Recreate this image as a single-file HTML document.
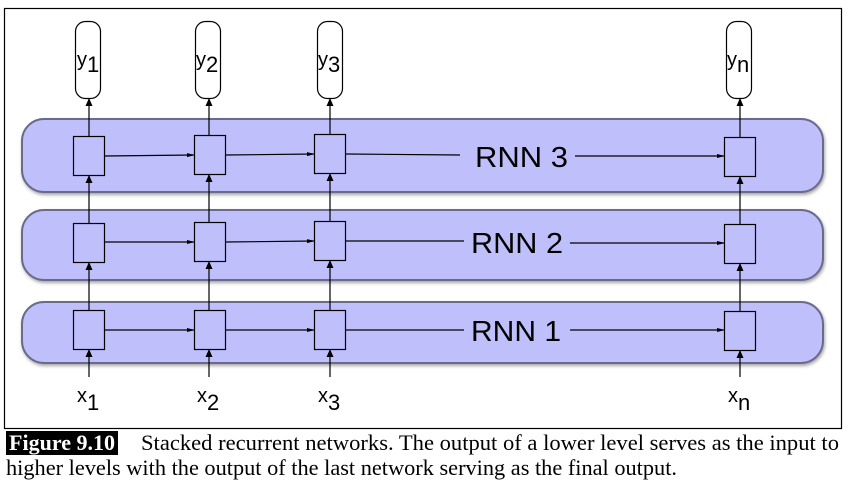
<!DOCTYPE html>
<html><head><style>body{margin:0;background:#fff}svg{display:block}</style></head><body>
<svg width="849" height="494" viewBox="0 0 849 494" xmlns="http://www.w3.org/2000/svg">
<defs>
<marker id="a" markerWidth="8" markerHeight="8" refX="7" refY="4" orient="auto" markerUnits="userSpaceOnUse"><path d="M0,0.5 L8,4 L0,7.5 Z" fill="#000"/></marker>
<marker id="s" markerWidth="8" markerHeight="6" refX="7" refY="3" orient="auto" markerUnits="userSpaceOnUse"><path d="M0,1 L8,3 L0,5 Z" fill="#000"/></marker>
<filter id="sh" x="-5%" y="-20%" width="110%" height="150%"><feDropShadow dx="1" dy="2" stdDeviation="1.5" flood-color="#000" flood-opacity="0.35"/></filter>
</defs>
<rect x="4.5" y="8.5" width="837" height="420" fill="#fff" stroke="#000" stroke-width="1.2"/>
<g fill="#bfbffc" stroke="#6a6a8a" stroke-width="2" filter="url(#sh)">
<rect x="22" y="119" width="801" height="73" rx="22"/>
<rect x="22" y="210" width="801" height="70" rx="22"/>
<rect x="22" y="302" width="801" height="61" rx="22"/>
</g>
<g fill="#fff" stroke="#000" stroke-width="1.2">
<rect x="75.5" y="21.5" width="25" height="77" rx="10"/>
<rect x="195.5" y="21.5" width="25" height="77" rx="10"/>
<rect x="317.5" y="21.5" width="25" height="77" rx="10"/>
<rect x="726.5" y="21.5" width="25" height="77" rx="10"/>
</g>
<g font-family="Liberation Sans, sans-serif" font-size="20" fill="#000">
<text x="77" y="66">y<tspan font-size="22" dy="6">1</tspan></text>
<text x="196" y="66">y<tspan font-size="22" dy="6">2</tspan></text>
<text x="318" y="66">y<tspan font-size="22" dy="6">3</tspan></text>
<text x="727" y="66">y<tspan font-size="22" dy="6">n</tspan></text>
<text x="77" y="402">x<tspan font-size="22" dy="8">1</tspan></text>
<text x="197" y="402">x<tspan font-size="22" dy="8">2</tspan></text>
<text x="318" y="402">x<tspan font-size="22" dy="8">3</tspan></text>
<text x="728" y="402">x<tspan font-size="22" dy="8">n</tspan></text>
</g>
<g fill="#bfbffc" stroke="#000" stroke-width="1.2">
<rect x="73.5" y="136.5" width="31" height="39"/><rect x="194.5" y="135.5" width="31" height="39"/><rect x="314.5" y="134.5" width="31" height="39"/><rect x="724.5" y="137.5" width="31" height="39"/>
<rect x="73.5" y="223.5" width="31" height="39"/><rect x="194.5" y="222.5" width="31" height="39"/><rect x="314.5" y="221.5" width="31" height="39"/><rect x="724.5" y="224.5" width="31" height="39"/>
<rect x="73.5" y="310.5" width="31" height="39"/><rect x="194.5" y="310.5" width="31" height="39"/><rect x="314.5" y="310.5" width="31" height="39"/><rect x="724.5" y="311.5" width="31" height="39"/>
</g>
<g stroke="#000" stroke-width="1.2" fill="none">
<line x1="89" y1="136" x2="89" y2="99" marker-end="url(#a)"/><line x1="209" y1="135" x2="209" y2="99" marker-end="url(#a)"/><line x1="330" y1="134" x2="330" y2="99" marker-end="url(#a)"/><line x1="740" y1="137" x2="740" y2="99" marker-end="url(#a)"/>
<line x1="89" y1="223" x2="89" y2="176" marker-end="url(#a)"/><line x1="209" y1="222" x2="209" y2="175" marker-end="url(#a)"/><line x1="330" y1="221" x2="330" y2="174" marker-end="url(#a)"/><line x1="740" y1="224" x2="740" y2="177" marker-end="url(#a)"/>
<line x1="89" y1="310" x2="89" y2="263" marker-end="url(#a)"/><line x1="209" y1="310" x2="209" y2="262" marker-end="url(#a)"/><line x1="330" y1="310" x2="330" y2="261" marker-end="url(#a)"/><line x1="740" y1="311" x2="740" y2="264" marker-end="url(#a)"/>
<line x1="89" y1="377" x2="89" y2="350" marker-end="url(#a)"/><line x1="209" y1="377" x2="209" y2="350" marker-end="url(#a)"/><line x1="330" y1="377" x2="330" y2="350" marker-end="url(#a)"/><line x1="740" y1="377" x2="740" y2="351" marker-end="url(#a)"/>
<line x1="105" y1="156" x2="194" y2="155" marker-end="url(#s)"/><line x1="226" y1="155" x2="314" y2="154" marker-end="url(#s)"/><line x1="346" y1="154" x2="460" y2="155"/><line x1="575" y1="156" x2="724" y2="156" marker-end="url(#s)"/>
<line x1="105" y1="242" x2="194" y2="242" marker-end="url(#s)"/><line x1="226" y1="242" x2="314" y2="241" marker-end="url(#s)"/><line x1="346" y1="241" x2="464" y2="241"/><line x1="570" y1="243" x2="724" y2="243" marker-end="url(#s)"/>
<line x1="105" y1="330" x2="194" y2="330" marker-end="url(#s)"/><line x1="226" y1="330" x2="314" y2="330" marker-end="url(#s)"/><line x1="346" y1="330" x2="464" y2="330"/><line x1="570" y1="330" x2="724" y2="330" marker-end="url(#s)"/>
</g>
<g font-family="Liberation Sans, sans-serif" font-size="29" fill="#000">
<text x="475" y="167" textLength="93" lengthAdjust="spacingAndGlyphs">RNN 3</text>
<text x="471" y="253" textLength="92" lengthAdjust="spacingAndGlyphs">RNN 2</text>
<text x="471" y="341" textLength="90" lengthAdjust="spacingAndGlyphs">RNN 1</text>
</g>
<rect x="6" y="431" width="112" height="24" fill="#000"/>
<g font-family="Liberation Serif, serif" font-size="22">
<text x="9" y="450" fill="#fff" font-weight="bold" textLength="106" lengthAdjust="spacingAndGlyphs">Figure 9.10</text>
<text x="141" y="450" fill="#000" textLength="698" lengthAdjust="spacingAndGlyphs">Stacked recurrent networks. The output of a lower level serves as the input to</text>
<text x="6" y="475" fill="#000" textLength="671" lengthAdjust="spacingAndGlyphs">higher levels with the output of the last network serving as the final output.</text>
</g>
</svg>
</body></html>
